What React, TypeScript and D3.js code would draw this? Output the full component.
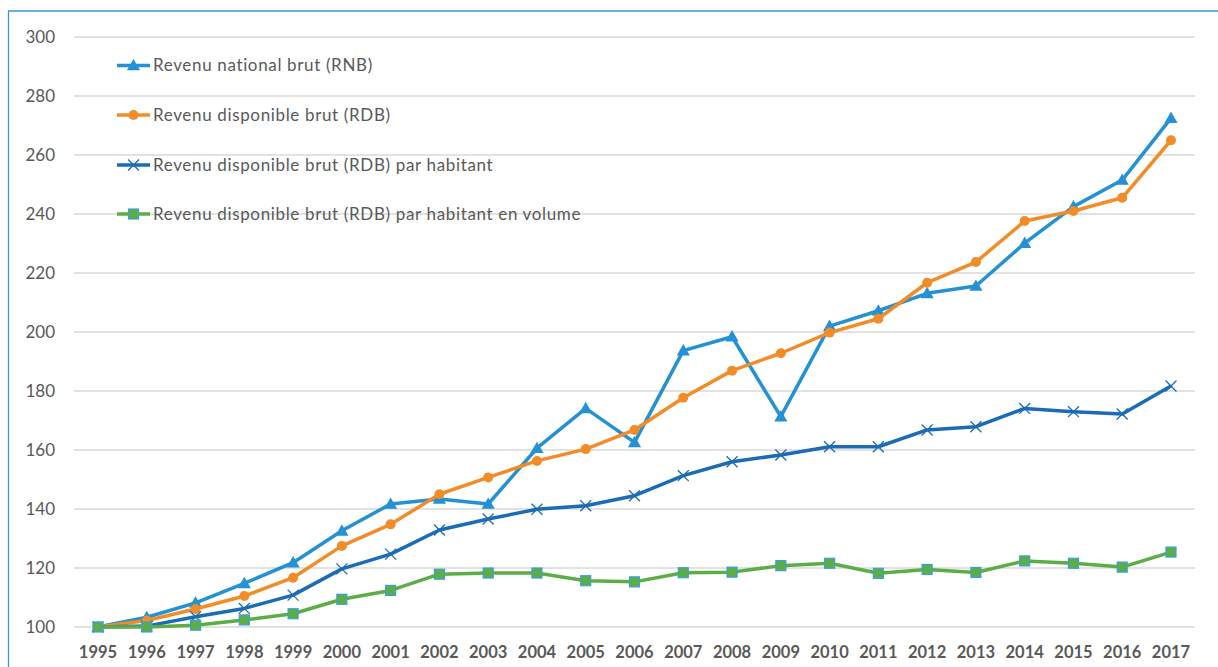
import React from "react";
import * as d3 from "d3";

const years = ["1995","1996","1997","1998","1999","2000","2001","2002","2003","2004","2005","2006","2007","2008","2009","2010","2011","2012","2013","2014","2015","2016","2017"];
const rnb = [100,103.3,108.2,114.8,121.8,132.6,141.7,143.4,141.7,160.6,174.1,162.6,193.7,198.4,171.3,202,207.2,213.1,215.6,230.1,242.5,251.5,272.5];
const rdb = [100,102.2,106.1,110.5,116.7,127.5,134.8,145,150.7,156.3,160.3,166.8,177.7,186.9,192.8,199.8,204.5,216.7,223.7,237.6,241,245.5,265];
const rdbHab = [100,100.3,103.5,106.3,110.8,119.7,124.7,132.9,136.6,139.9,141.1,144.5,151.3,156,158.3,161.1,161.1,166.8,167.9,174.1,173,172.2,181.7];
const rdbHabVol = [100,100,100.6,102.4,104.5,109.4,112.4,117.9,118.3,118.3,115.7,115.3,118.4,118.6,120.8,121.6,118.2,119.5,118.5,122.4,121.6,120.3,125.4];
const yTicks = [100,120,140,160,180,200,220,240,260,280,300];
const seriesNames = [
  "Revenu national brut (RNB)",
  "Revenu disponible brut (RDB)",
  "Revenu disponible brut (RDB) par habitant",
  "Revenu disponible brut (RDB) par habitant en volume",
];

const W = 1218, H = 667;
const FONT = "Lato, 'Open Sans', sans-serif";
const TXT = "#595959";

type Marker = "triangle" | "circle" | "x" | "square";
const series: { name: string; values: number[]; color: string; marker: Marker }[] = [
  { name: seriesNames[0], values: rnb, color: "#2391D3", marker: "triangle" },
  { name: seriesNames[1], values: rdb, color: "#F28C28", marker: "circle" },
  { name: seriesNames[2], values: rdbHab, color: "#1B6CB5", marker: "x" },
  { name: seriesNames[3], values: rdbHabVol, color: "#5DAD46", marker: "square" },
];

function MarkerShape({ type, x, y, color }: { type: Marker; x: number; y: number; color: string }) {
  if (type === "triangle") {
    const p = d3.symbol().type(d3.symbolTriangle).size(75)()!;
    return <path d={p} transform={`translate(${x},${y + 1})`} fill={color} />;
  }
  if (type === "circle") {
    return <circle cx={x} cy={y} r={5} fill={color} />;
  }
  if (type === "x") {
    const p = d3.symbol().type((d3 as any).symbolTimes || d3.symbolCross).size(80)()!;
    return <path d={p} transform={`translate(${x},${y})`} fill="none" stroke={color} strokeWidth={1.3} />;
  }
  return <rect x={x - 5} y={y - 5} width={10} height={10} fill={color} stroke="#3AA0DA" strokeWidth={1.2} />;
}

export default function App() {
  const x = d3.scalePoint<string>().domain(years).range([98, 1171]);
  const y = d3.scaleLinear().domain([100, 300]).range([627, 37]);
  const gridX0 = 74, gridX1 = 1195;
  const line = d3.line<number>().x((_, i) => x(years[i])!).y((d) => y(d));
  const legendY = [65.5, 115, 165, 214];

  return (
    <svg width={W} height={H} style={{ position: "absolute", left: 0, top: 0, background: "#fff" }}>
      <rect x={0} y={0} width={W} height={H} fill="#fff" />
      <line x1={8.5} x2={8.5} y1={11} y2={H} stroke="#3E95CE" strokeWidth={1.3} />
      <line x1={8} x2={W} y1={11} y2={11} stroke="#3E95CE" strokeWidth={1.3} />
      {yTicks.map((t) => (
        <g key={t}>
          <line x1={gridX0} x2={gridX1} y1={y(t)} y2={y(t)} stroke="#D9D9D9" strokeWidth={1.5} />
          <text x={55} y={y(t)} dy="0.35em" textAnchor="end" fontFamily={FONT} fontSize={17} fill={TXT}>{t}</text>
        </g>
      ))}
      {years.map((yr) => (
        <text key={yr} x={x(yr)} y={658} textAnchor="middle" fontFamily={FONT} fontSize={16.5} fontWeight="bold" fill={TXT}>{yr}</text>
      ))}
      {series.map((s) => (
        <g key={s.name}>
          <path d={line(s.values)!} fill="none" stroke={s.color} strokeWidth={3.5} strokeLinejoin="round" />
          {s.values.map((v, i) => (
            <MarkerShape key={i} type={s.marker} x={x(years[i])!} y={y(v)} color={s.color} />
          ))}
        </g>
      ))}
      {series.map((s, i) => (
        <g key={"lg" + i}>
          <line x1={117} x2={150} y1={legendY[i]} y2={legendY[i]} stroke={s.color} strokeWidth={3.5} />
          <MarkerShape type={s.marker} x={133.5} y={legendY[i]} color={s.color} />
          <text x={153} y={legendY[i]} dy="0.35em" fontFamily={FONT} fontSize={17} letterSpacing={0.65} fill={TXT}>{s.name}</text>
        </g>
      ))}
    </svg>
  );
}
